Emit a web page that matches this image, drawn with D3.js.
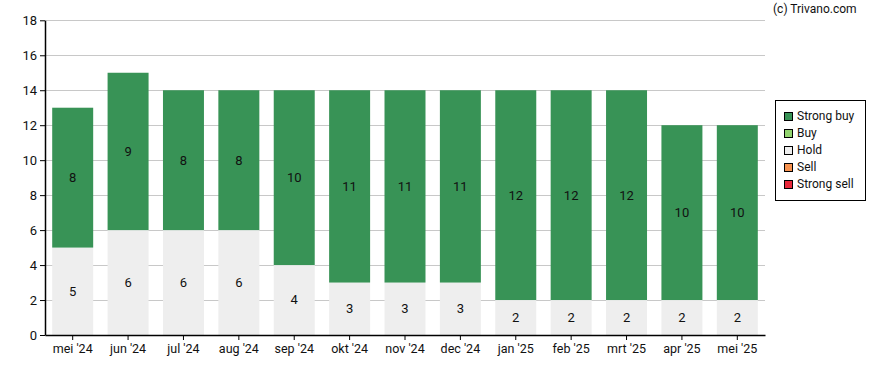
<!DOCTYPE html>
<html lang="nl">
<head>
<meta charset="UTF-8">
<title>Analyst ratings</title>
<style>
    body { margin: 0; background: #fff; font-family: Roboto, 'Noto Sans', sans-serif; }
    text { font-family: Roboto, 'Noto Sans', sans-serif; }
</style>
</head>
<body>
<div id="chart"></div>
<script src="https://d3js.org/d3.v7.min.js"></script>
<script>
    const months = ["mei '24", "jun '24", "jul '24", "aug '24", "sep '24", "okt '24", "nov '24",
        "dec '24", "jan '25", "feb '25", "mrt '25", "apr '25", "mei '25"];
    const strongSell = [0, 0, 0, 0, 0, 0, 0, 0, 0, 0, 0, 0, 0];
    const sell = [0, 0, 0, 0, 0, 0, 0, 0, 0, 0, 0, 0, 0];
    const hold = [5, 6, 6, 6, 4, 3, 3, 3, 2, 2, 2, 2, 2];
    const buy = [0, 0, 0, 0, 0, 0, 0, 0, 0, 0, 0, 0, 0];
    const strongBuy = [8, 9, 8, 8, 10, 11, 11, 11, 12, 12, 12, 10, 10];
    const yTicks = [0, 2, 4, 6, 8, 10, 12, 14, 16, 18];

    // stacking order from bottom up
    const series = [
        {name: "Strong sell", values: strongSell, color: "#e8283a"},
        {name: "Sell", values: sell, color: "#f7924f"},
        {name: "Hold", values: hold, color: "#eeeeee"},
        {name: "Buy", values: buy, color: "#92d46f"},
        {name: "Strong buy", values: strongBuy, color: "#389356"}
    ];

    const width = 888, height = 370;
    const margin = {left: 45, right: 123, top: 20, bottom: 35};

    const svg = d3.select("#chart").append("svg")
        .attr("width", width)
        .attr("height", height);

    const x = d3.scaleBand()
        .domain(months)
        .range([margin.left, width - margin.right])
        .paddingInner(0.26)
        .paddingOuter(0.13);

    const y = d3.scaleLinear()
        .domain([0, 18])
        .range([height - margin.bottom, margin.top + 0.3]);

    // gridlines
    svg.append("g")
        .selectAll("line")
        .data(yTicks.filter(d => d > 0))
        .enter().append("line")
        .attr("x1", margin.left)
        .attr("x2", width - margin.right)
        .attr("y1", d => Math.round(y(d)) + 0.5)
        .attr("y2", d => Math.round(y(d)) + 0.5)
        .attr("stroke", "#c8c8c8")
        .attr("stroke-width", 1);

    // stacked bars
    const rows = months.map((m, i) => {
        const r = {month: m};
        series.forEach(s => { r[s.name] = s.values[i]; });
        return r;
    });
    const stack = d3.stack().keys(series.map(s => s.name))(rows);

    const layers = svg.append("g")
        .selectAll("g")
        .data(stack)
        .enter().append("g")
        .attr("fill", (d, i) => series[i].color);

    layers.selectAll("rect")
        .data(d => d)
        .enter().append("rect")
        .attr("x", d => x(d.data.month))
        .attr("width", x.bandwidth())
        .attr("y", d => y(d[1]))
        .attr("height", d => y(d[0]) - y(d[1]));

    layers.selectAll("text")
        .data(d => d.filter(v => v[1] - v[0] > 0))
        .enter().append("text")
        .attr("x", d => x(d.data.month) + x.bandwidth() / 2)
        .attr("y", d => y((d[0] + d[1]) / 2) + 1)
        .attr("text-anchor", "middle")
        .attr("dominant-baseline", "middle")
        .attr("fill", "#111")
        .style("font-size", "13px")
        .text(d => d[1] - d[0]);

    // y axis
    const yAxis = svg.append("g")
        .attr("transform", `translate(${margin.left},0)`)
        .call(d3.axisLeft(y).tickValues(yTicks).tickSize(5).tickSizeOuter(0));
    yAxis.select(".domain").attr("stroke", "#000").attr("stroke-width", 1.5);
    yAxis.selectAll(".tick line").attr("stroke", "#000");
    yAxis.selectAll(".tick text")
        .attr("fill", "#111")
        .attr("x", -8)
        .style("font-size", "13px")
        .style("font-family", "Roboto, sans-serif");

    // x axis
    const xAxis = svg.append("g")
        .attr("transform", `translate(0,${height - margin.bottom})`)
        .call(d3.axisBottom(x).tickSize(5).tickSizeOuter(0));
    xAxis.select(".domain").attr("stroke", "#000").attr("stroke-width", 1.5);
    xAxis.selectAll(".tick line").attr("stroke", "#000");
    xAxis.selectAll(".tick text")
        .attr("fill", "#111")
        .attr("y", 9)
        .style("font-size", "12.5px")
        .style("font-family", "Roboto, sans-serif");

    // source
    svg.append("text")
        .attr("x", 773)
        .attr("y", 13)
        .attr("fill", "#111")
        .style("font-size", "12px")
        .text("(c) Trivano.com");

    // legend
    const legend = svg.append("g");
    legend.append("rect")
        .attr("x", 775.5)
        .attr("y", 100.5)
        .attr("width", 90)
        .attr("height", 100)
        .attr("fill", "#fff")
        .attr("stroke", "#000")
        .attr("stroke-width", 1);

    const legendItems = series.slice().reverse();
    const item = legend.selectAll("g.item")
        .data(legendItems)
        .enter().append("g")
        .attr("class", "item")
        .attr("transform", (d, i) => `translate(784,${117 + i * 17})`);

    item.append("rect")
        .attr("x", 0.5)
        .attr("y", -4.5)
        .attr("width", 8)
        .attr("height", 8)
        .attr("fill", d => d.color)
        .attr("stroke", "#000")
        .attr("stroke-width", 1);

    item.append("text")
        .attr("x", 13)
        .attr("y", 0)
        .attr("dominant-baseline", "middle")
        .attr("fill", "#111")
        .style("font-size", "12px")
        .text(d => d.name);
</script>
</body>
</html>
